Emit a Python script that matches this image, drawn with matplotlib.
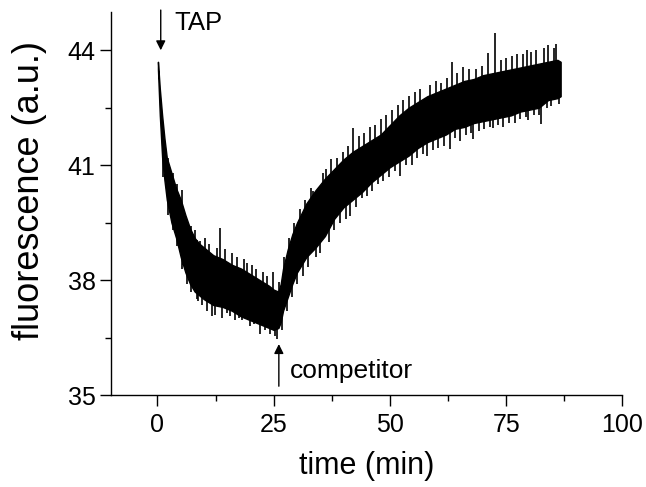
import numpy as np
import matplotlib
matplotlib.use("Agg")
import matplotlib.pyplot as plt

plt.rcParams['font.family'] = ['Liberation Sans', 'DejaVu Sans']

# --- data ---
# core band of the noisy fluorescence trace (time in min, fluorescence in a.u.)
time_min = [0.1, 0.5, 1, 1.5, 2, 3, 4, 5, 6, 7, 8, 9, 10, 12, 14, 16, 18, 20, 22,
            24, 25, 26, 26.5, 27, 28, 29, 30, 32, 34, 36, 38, 40, 42, 44, 46, 48,
            50, 52, 54, 56, 58, 60, 62, 64, 66, 68, 70, 72, 74, 76, 78, 80, 82,
            84, 86, 86.7]
upper = [43.7, 43.0, 42.3, 41.7, 41.2, 40.8, 40.4, 40.1, 39.7, 39.35, 39.1, 38.95,
         38.85, 38.65, 38.55, 38.4, 38.3, 38.15, 38.0, 37.85, 37.75, 37.7, 37.9,
         38.3, 38.8, 39.2, 39.5, 40.0, 40.35, 40.65, 40.9, 41.15, 41.35, 41.5,
         41.65, 41.8, 42.05, 42.3, 42.5, 42.65, 42.8, 42.9, 43.0, 43.1, 43.2,
         43.25, 43.35, 43.4, 43.45, 43.5, 43.55, 43.6, 43.65, 43.7, 43.75, 43.7]
lower = [43.5, 42.3, 41.2, 40.6, 40.1, 39.5, 39.1, 38.6, 38.2, 37.9, 37.7, 37.6,
         37.5, 37.35, 37.3, 37.2, 37.05, 36.95, 36.85, 36.75, 36.7, 36.75, 36.9,
         37.2, 37.55, 37.9, 38.2, 38.6, 38.85, 39.15, 39.6, 39.9, 40.1, 40.3,
         40.55, 40.75, 40.95, 41.1, 41.25, 41.45, 41.6, 41.7, 41.8, 41.95, 42.0,
         42.1, 42.15, 42.2, 42.25, 42.3, 42.4, 42.45, 42.5, 42.7, 42.75, 42.8]

# individual noise spikes: time, low end, high end
spike_t = [1.2, 2.3, 3.4, 4.1, 5.2, 5.5, 6.4, 7.3, 8.0, 8.4, 8.7, 9.1, 9.6, 10.2,
           10.6, 11.1, 11.7, 12.4, 12.8, 13.4, 13.9, 14.5, 15.0, 15.5, 16.0, 16.6,
           17.0, 17.6, 18.2, 18.6, 19.2, 19.9, 20.3, 20.8, 21.2, 22.0, 22.6, 23.1,
           23.5, 24.1, 24.9, 25.3, 25.7, 26.2, 26.8, 27.3, 27.8, 28.3, 28.9, 29.4,
           30.0, 30.6, 31.2, 31.8, 32.4, 33.0, 33.5, 34.1, 34.9, 35.5, 36.3, 36.9,
           37.4, 38.0, 38.6, 39.2, 39.8, 40.5, 41.0, 41.4, 42.1, 42.7, 43.3, 43.9,
           44.5, 45.1, 45.7, 46.1, 46.8, 47.4, 48.0, 48.6, 49.2, 49.8, 50.5, 51.1,
           51.7, 52.2, 52.9, 53.5, 54.1, 54.7, 55.3, 55.9, 56.5, 57.2, 57.9, 58.5,
           59.2, 59.8, 60.4, 61.0, 61.6, 62.2, 62.9, 63.3, 63.9, 64.5, 65.1, 65.7,
           66.3, 66.9, 67.5, 67.9, 68.5, 69.1, 69.7, 70.3, 71.1, 71.6, 72.2, 72.6,
           73.2, 73.8, 74.4, 75.0, 75.6, 76.2, 76.8, 77.4, 78.0, 78.6, 79.2, 79.4,
           79.7, 80.3, 80.9, 81.5, 82.1, 82.5, 83.1, 83.7, 84.0, 84.6, 85.2, 85.7,
           86.3]
spike_lo = [40.7, 39.7, 39.3, 38.9, 38.3, 38.4, 37.9, 37.7, 38.5, 37.5, 37.45, 38.4,
            37.35, 38.3, 37.2, 38.2, 37.05, 37.1, 38.0, 38.0, 37.0, 38.0, 37.15,
            37.05, 37.9, 36.95, 37.8, 37.0, 36.95, 37.7, 37.7, 36.8, 37.6, 36.85,
            37.5, 36.59, 37.4, 36.7, 37.4, 36.6, 37.3, 36.55, 36.45, 37.2, 36.7,
            37.8, 37.2, 38.3, 37.55, 38.6, 37.9, 39.0, 38.1, 39.3, 38.35, 39.7, 39.8,
            38.6, 38.72, 40.1, 40.2, 39.0, 40.4, 39.3, 40.5, 39.5, 40.7, 39.6, 40.9,
            39.68, 41.0, 39.9, 41.1, 40.15, 41.2, 40.2, 41.3, 40.33, 41.4, 40.5,
            41.5, 40.6, 41.6, 40.7, 41.8, 40.85, 41.9, 40.73, 42.0, 41.0, 42.1, 41.0,
            42.2, 41.2, 42.3, 41.3, 41.25, 42.4, 41.4, 42.5, 41.45, 42.6, 41.5, 42.6,
            41.43, 42.7, 41.7, 42.8, 41.64, 42.8, 41.8, 42.9, 41.85, 41.69, 42.9,
            41.9, 43.0, 41.95, 43.0, 42.0, 41.98, 43.0, 42.05, 43.1, 42.0, 43.1, 42.1,
            43.2, 42.1, 43.2, 42.2, 43.3, 42.25, 43.3, 42.17, 43.3, 42.3, 43.4, 42.3,
            42.08, 43.4, 42.5, 43.4, 42.55, 43.5, 43.5, 42.6]
spike_hi = [42.1, 41.2, 40.8, 40.5, 40.35, 39.9, 39.5, 39.4, 39.3, 39.05, 38.4,
            39.02, 38.2, 39.1, 38.2, 38.95, 38.0, 38.0, 38.85, 39.37, 37.9, 38.8,
            37.9, 37.8, 38.7, 37.8, 38.6, 37.7, 37.7, 38.55, 38.45, 37.6, 38.4, 37.5,
            38.3, 37.4, 38.2, 37.4, 38.1, 37.3, 38.2, 37.2, 37.2, 37.95, 37.6, 38.6,
            37.9, 39.1, 38.3, 39.5, 38.6, 39.85, 38.9, 40.1, 39.1, 40.4, 40.33, 39.3,
            39.5, 40.8, 40.9, 39.8, 41.17, 40.0, 41.2, 40.2, 41.35, 40.3, 41.5, 40.4,
            41.98, 40.6, 41.75, 40.8, 41.85, 40.9, 42.0, 41.0, 42.05, 41.1, 42.2,
            41.3, 42.3, 41.3, 42.45, 41.5, 42.56, 41.5, 42.7, 41.6, 42.8, 41.7, 42.9,
            41.9, 43.0, 42.0, 41.9, 43.1, 42.0, 43.2, 42.1, 43.15, 42.2, 43.27, 42.2,
            43.7, 42.3, 43.4, 42.4, 43.56, 42.4, 43.5, 42.5, 42.4, 43.5, 42.6, 43.6,
            42.6, 43.92, 42.6, 42.7, 44.44, 42.7, 43.75, 42.7, 43.8, 42.8, 43.85,
            42.8, 43.9, 42.9, 43.9, 42.9, 44.0, 42.9, 43.95, 43.0, 44.0, 43.0, 42.9,
            44.05, 43.1, 44.13, 43.1, 44.05, 44.16, 43.2]

x_ticks = [0, 25, 50, 75, 100]
y_ticks = [35, 38, 41, 44]

fig = plt.figure(figsize=(6.46, 4.87), dpi=100)
ax = fig.add_axes([0.1718, 0.1889, 0.7918, 0.7865])

ax.fill_between(time_min, lower, upper, color='black', lw=1.0, edgecolor='black')
ax.vlines(spike_t, spike_lo, spike_hi, color='black', lw=1.2)

ax.set_xlim(-10, 100)
ax.set_ylim(35, 45)
ax.set_xticks(x_ticks)
ax.set_yticks(y_ticks)
ax.set_xticks([12.5, 37.5, 62.5, 87.5], minor=True)
ax.set_yticks([36.5, 39.5, 42.5], minor=True)
ax.tick_params(which='major', direction='out', length=8, width=1.0, labelsize=18)
ax.tick_params(axis='y', which='major', pad=3)
ax.tick_params(axis='x', which='major', pad=5)
ax.tick_params(which='minor', direction='out', length=4.5, width=1.0)
for side in ['top', 'right']:
    ax.spines[side].set_visible(False)
for side in ['left', 'bottom']:
    ax.spines[side].set_linewidth(1.0)

ax.set_xlabel('time (min)', fontsize=22)
ax.set_ylabel('fluorescence (a.u.)', fontsize=26)
ax.xaxis.set_label_coords(0.5, -0.147)
ax.yaxis.set_label_coords(-0.125, 0.535)

ax.annotate('', xy=(0.7, 44.0), xytext=(0.7, 45.05),
            arrowprops=dict(arrowstyle='-|>', color='black', lw=1.0,
                            mutation_scale=14, shrinkA=0, shrinkB=0),
            annotation_clip=False)
ax.text(3.7, 44.72, 'TAP', fontsize=18.5, va='center', ha='left')
ax.annotate('', xy=(26.1, 36.33), xytext=(26.1, 35.23),
            arrowprops=dict(arrowstyle='-|>', color='black', lw=1.0,
                            mutation_scale=14, shrinkA=0, shrinkB=0))
ax.text(28.5, 35.62, 'competitor', fontsize=19, va='center', ha='left')

fig.savefig('out.png', dpi=100)
